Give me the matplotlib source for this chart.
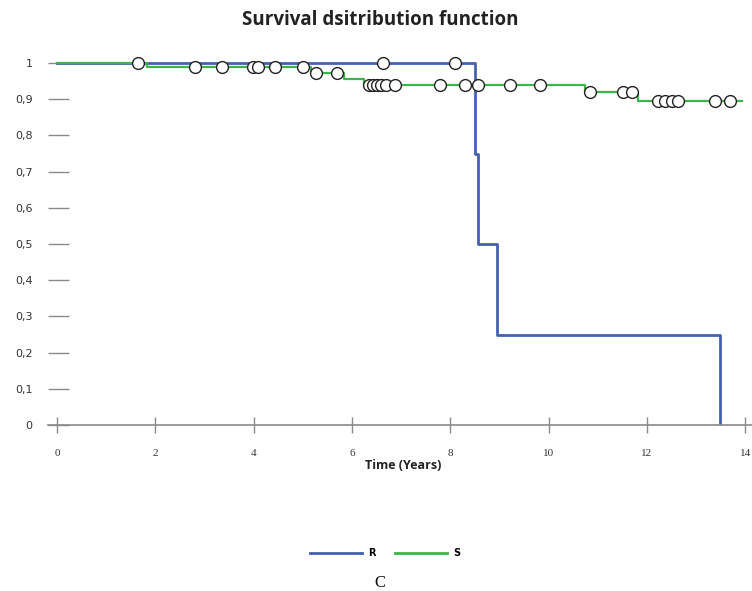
import numpy as np
import matplotlib
matplotlib.use('Agg')
import matplotlib.pyplot as plt

## -------------------------------- data --------------------------------
# group R : step curve (event times, survival after each event)
r_times = [0.0, 8.5, 8.57, 8.96, 13.49]
r_surv = [1.0, 0.75, 0.5, 0.25, 0.0]
r_end = 13.49
r_cens = [1.64, 6.63, 8.09]

# group S
s_times = [0.0, 1.83, 5.17, 5.83, 6.24, 10.75, 11.82]
s_surv = [1.0, 0.99, 0.972, 0.956, 0.94, 0.92, 0.895]
s_end = 13.94
s_cens = [2.81, 3.36, 3.99, 4.09, 4.43, 5.0, 5.27, 5.7,
          6.34, 6.42, 6.51, 6.59, 6.69, 6.88, 7.79, 8.3, 8.57, 9.21, 9.83,
          10.84, 11.51, 11.69, 12.23, 12.37, 12.51, 12.64, 13.39, 13.69]

x_ticks = [0, 2, 4, 6, 8, 10, 12, 14]
y_ticks = [0, 0.1, 0.2, 0.3, 0.4, 0.5, 0.6, 0.7, 0.8, 0.9, 1.0]
y_labels = ['0', '0,1', '0,2', '0,3', '0,4', '0,5', '0,6', '0,7', '0,8', '0,9', '1']

blue = '#4560b0'
green = '#3cb64a'


def stepValue(times, surv, x):
    '''survival value of a step curve at time x'''
    idx = np.searchsorted(times, x, side='right') - 1
    return surv[idx]


## -------------------------------- figure --------------------------------
fig = plt.figure(figsize=(7.52, 5.91), dpi=100)
ax = fig.add_axes([48 / 752, (591 - 425) / 591, 704 / 752, 362 * 1.05 / 591])

# step curves
ax.step(r_times + [r_end], r_surv + [r_surv[-1]], where='post', color=blue, lw=2.0, label='R', zorder=2)
ax.step(s_times + [s_end], s_surv + [s_surv[-1]], where='post', color=green, lw=1.6, label='S', zorder=3)

# censored marks
r_cy = [stepValue(r_times, r_surv, x) for x in r_cens]
s_cy = [stepValue(s_times, s_surv, x) for x in s_cens]
ax.plot(r_cens, r_cy, 'o', ms=8.5, mfc='white', mec='#222222', mew=1.0, zorder=4)
ax.plot(s_cens, s_cy, 'o', ms=8.5, mfc='white', mec='#222222', mew=1.0, zorder=4)

ax.set_xlim(-0.183, 14.14)
ax.set_ylim(0, 1.05)

for side in ['left', 'right', 'top']:
    ax.spines[side].set_visible(False)
ax.spines['bottom'].set_color('#8a8a8a')
ax.spines['bottom'].set_linewidth(1.2)

ax.set_xticks(x_ticks)
ax.set_xticklabels([str(t) for t in x_ticks], fontfamily='Liberation Serif', fontsize=8, color='#333333')
ax.set_yticks(y_ticks)
ax.set_yticklabels(y_labels, fontfamily='DejaVu Sans', fontsize=8, color='#333333')
ax.tick_params(axis='x', direction='inout', length=12, width=1, color='#8a8a8a', pad=11)
ax.tick_params(axis='y', direction='in', length=15, width=1, color='#8a8a8a', pad=11)

# texts
fig.text(0.505, 0.966, 'Survival dsitribution function', ha='center', va='center',
         fontfamily='Open Sans', fontweight='bold', fontsize=13.5, color='#222222')
fig.text(0.536, 0.213, 'Time (Years)', ha='center', va='center',
         fontfamily='Open Sans', fontweight='bold', fontsize=9, color='#222222')

leg = fig.legend(loc='center', bbox_to_anchor=(0.512, 0.064), ncol=2, frameon=False,
                 handlelength=5.4, columnspacing=2.0, handletextpad=0.6,
                 prop={'family': 'DejaVu Sans', 'weight': 'bold', 'size': 7})
for line in leg.get_lines():
    line.set_linewidth(2.0)

fig.text(0.505, 0.0135, 'C', ha='center', va='center', fontfamily='Liberation Serif',
         fontsize=12, color='#111111')

fig.savefig('out.png', dpi=100)
